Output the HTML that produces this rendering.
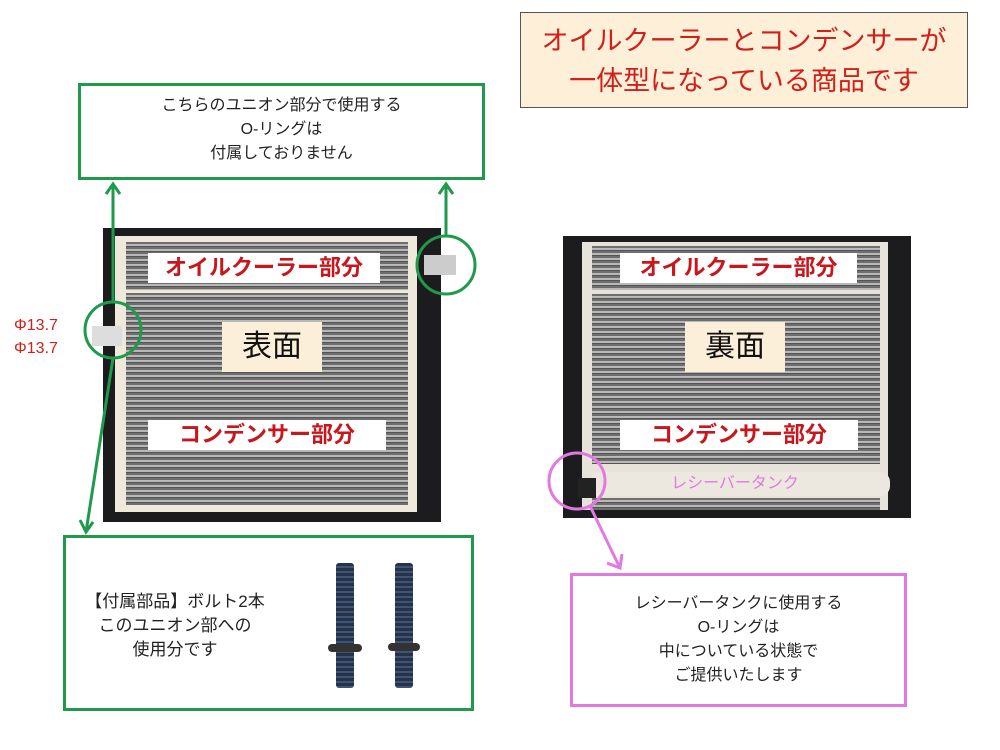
<!DOCTYPE html>
<html><head><meta charset="utf-8"><style>
body{margin:0;width:1000px;height:750px;background:#fff;position:relative;overflow:hidden;font-family:"Liberation Sans","Noto Sans CJK JP",sans-serif}
.a{position:absolute}
.fins{background:repeating-linear-gradient(180deg,#6e6e6e 0 2px,#b8b8b8 2px 4px,#555 4px 5px)}
.lab{position:absolute;background:#fff;color:#c8161d;font-weight:bold;font-size:22px;text-align:center;line-height:30px}
.men{position:absolute;background:#fbefd9;color:#111;font-size:30px;text-align:center;line-height:50px}
.t{position:absolute;text-align:center;color:#222;font-size:16px;line-height:24px}
</style></head><body>
<div class="a" style="left:520px;top:12px;width:448px;height:96px;background:#fdefd8;border:1px solid #555;box-sizing:border-box;color:#d0201a;font-size:27px;line-height:40px;text-align:center;padding-top:8px">オイルクーラーとコンデンサーが<br>一体型になっている商品です</div>
<div class="a" style="left:78px;top:83px;width:407px;height:97px;border:3px solid #1f9a4c;box-sizing:border-box"></div>
<div class="t" style="left:78px;top:94px;width:407px">こちらのユニオン部分で使用する<br>O-リングは<br>付属しておりません</div>

<div class="a" style="left:103px;top:228px;width:338px;height:294px;background:#1c1c1e"></div>
<div class="a" style="left:115px;top:236px;width:302px;height:276px;background:#efe9dc"></div>
<div class="a fins" style="left:126px;top:242px;width:282px;height:48px"></div>
<div class="a fins" style="left:126px;top:293px;width:282px;height:212px"></div>
<div class="lab" style="left:148px;top:253px;width:232px">オイルクーラー部分</div>
<div class="men" style="left:222px;top:322px;width:100px">表面</div>
<div class="lab" style="left:148px;top:420px;width:238px">コンデンサー部分</div>
<div class="a" style="left:92px;top:326px;width:30px;height:20px;background:#ddd"></div>
<div class="a" style="left:424px;top:255px;width:32px;height:20px;background:#ccc"></div>

<div class="a" style="left:563px;top:236px;width:348px;height:282px;background:#1c1c1e"></div>
<div class="a" style="left:582px;top:242px;width:306px;height:268px;background:#e8e3da"></div>
<div class="a fins" style="left:592px;top:246px;width:288px;height:44px"></div>
<div class="a fins" style="left:592px;top:294px;width:288px;height:170px"></div>
<div class="a" style="left:590px;top:472px;width:300px;height:24px;background:#ece8df;border-radius:10px"></div>
<div class="a fins" style="left:592px;top:498px;width:288px;height:12px"></div>
<div class="a" style="left:578px;top:478px;width:18px;height:20px;background:#222"></div>
<div class="a" style="left:620px;top:472px;width:230px;text-align:center;color:#e07ae0;font-size:16px;line-height:24px">レシーバータンク</div>
<div class="lab" style="left:620px;top:253px;width:237px">オイルクーラー部分</div>
<div class="men" style="left:685px;top:322px;width:100px">裏面</div>
<div class="lab" style="left:620px;top:420px;width:238px">コンデンサー部分</div>

<div class="a" style="left:14px;top:314px;color:#d0201a;font-size:16px;line-height:23px">Φ13.7<br>Φ13.7</div>

<svg class="a" style="left:0;top:0" width="1000" height="750">
<g stroke="#1f9a4c" stroke-width="3" fill="none">
<circle cx="446" cy="265" r="29"/>
<circle cx="113" cy="330" r="28"/>
<line x1="446" y1="236" x2="446" y2="184"/><polyline points="439,194 446,184 453,194"/>
<line x1="113" y1="302" x2="113" y2="184"/><polyline points="106,194 113,184 120,194"/>
<line x1="113" y1="358" x2="86" y2="532"/><polyline points="80,520 86,532 93,522"/>
</g>
<g stroke="#e07ae0" stroke-width="3" fill="none">
<circle cx="577" cy="481" r="28"/>
<line x1="590" y1="506" x2="620" y2="568"/><polyline points="607,563 620,568 622,554"/>
</g>
</svg>

<div class="a" style="left:63px;top:535px;width:411px;height:176px;border:3px solid #1f9a4c;box-sizing:border-box"></div>
<div class="t" style="left:70px;top:590px;width:210px;font-size:17px">【付属部品】ボルト2本<br>このユニオン部への<br>使用分です</div>
<div class="a" style="left:336px;top:563px;width:18px;height:125px;background:repeating-linear-gradient(180deg,#25324a 0 3px,#3e5578 3px 5px);border-radius:3px"></div>
<div class="a" style="left:328px;top:644px;width:34px;height:8px;background:#333;border-radius:4px"></div>
<div class="a" style="left:395px;top:563px;width:18px;height:125px;background:repeating-linear-gradient(180deg,#25324a 0 3px,#3e5578 3px 5px);border-radius:3px"></div>
<div class="a" style="left:388px;top:643px;width:32px;height:8px;background:#333;border-radius:4px"></div>

<div class="a" style="left:570px;top:573px;width:337px;height:134px;border:3px solid #e07ae0;box-sizing:border-box"></div>
<div class="t" style="left:570px;top:592px;width:337px">レシーバータンクに使用する<br>O-リングは<br>中についている状態で<br>ご提供いたします</div>
</body></html>
